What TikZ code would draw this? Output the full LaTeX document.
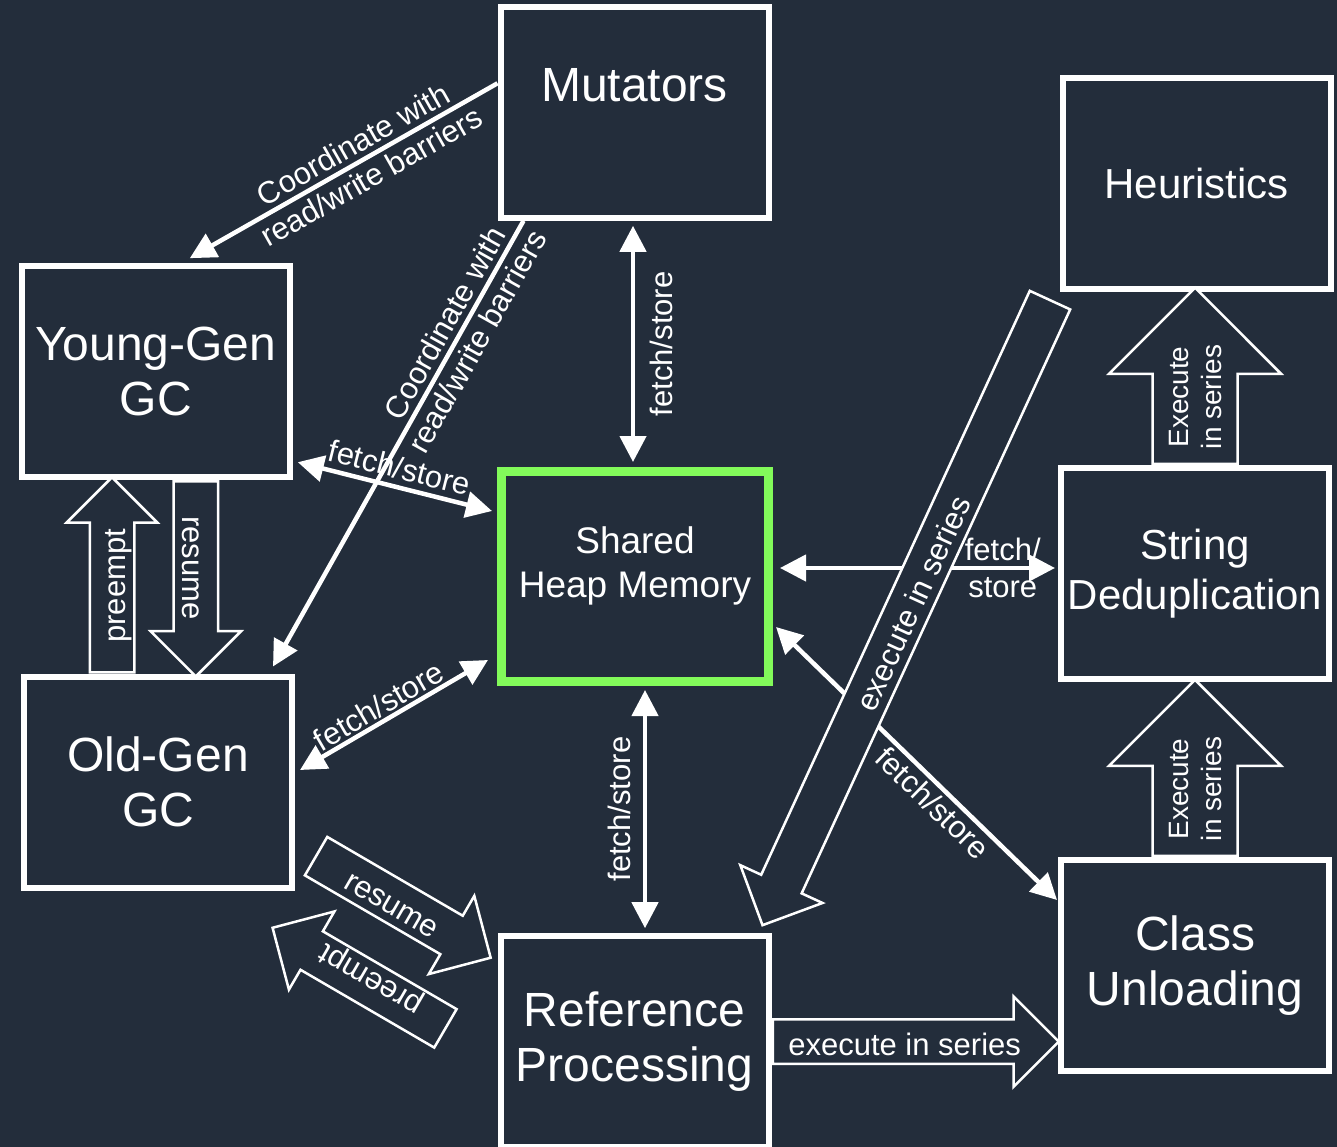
\documentclass[tikz,border=0pt]{standalone}
\usepackage{fontspec}
\setmainfont{Liberation Sans}
\usetikzlibrary{positioning,arrows.meta,shapes.arrows}
\definecolor{bgnavy}{HTML}{232D3B}
\definecolor{heapgreen}{HTML}{82FA5A}
\tikzset{
  box/.style={draw=white,line width=6pt,fill=bgnavy,text=white,minimum width=268pt,minimum height=211pt,align=center,font=\fontsize{48pt}{55pt}\selectfont},
  smallbox/.style={box,font=\fontsize{42pt}{50pt}\selectfont},
  heapbox/.style={box,draw=heapgreen,line width=9pt,minimum width=267pt,minimum height=210pt,font=\fontsize{37pt}{44pt}\selectfont},
  arr/.style={draw=white,line width=4.5pt},
  lbl/.style={text=white,font=\fontsize{31pt}{37pt}\selectfont,inner sep=3pt},
  blockbase/.style={single arrow,draw=white,line width=2.5pt,fill=bgnavy,text=white,single arrow head indent=0pt,inner xsep=2pt,anchor=tail},
  blockarr/.style={blockbase,single arrow head extend=23pt,inner ysep=7.5pt,text height=27pt,text depth=0pt,font=\fontsize{31pt}{37pt}\selectfont},
  widearr/.style={blockbase,single arrow head extend=43.5pt,inner ysep=15pt,align=center,font=\fontsize{28pt}{33pt}\selectfont}
}
\begin{document}
\begin{tikzpicture}[x=1pt,y=1pt,>={Triangle[length=26pt,width=26pt]}]
\useasboundingbox[fill=bgnavy] (0,0) rectangle (1337,-1147);

\node[box,text height=35pt,text depth=56pt] (mut) at (634.5,-112.3) {Mutators};
\node[smallbox] (heur) at (1196.5,-183.5) {Heuristics};
\node[box] (young) at (155.8,-371.7) {Young-Gen\\GC};
\node[heapbox] (heap) at (635,-576.5) {Shared\\Heap Memory\\[-16pt]\mbox{}};
\node[smallbox] (string) at (1195,-573.5) {String\\Deduplication};
\node[box] (old) at (158,-782) {Old-Gen\\GC};
\node[box] (class) at (1195,-965.5) {Class\\Unloading};
\node[box] (ref) at (634.5,-1041.7) {Reference\\Processing};

\draw[arr,->] ([yshift=29pt]mut.west) -- ([xshift=34pt,yshift=5pt]young.north)
  node[lbl,pos=0.44,sloped,align=center,inner sep=0pt] {Coordinate with\\read/write barriers};
\draw[arr,->] ([xshift=26pt]mut.south west) -- ([xshift=-22pt,yshift=7pt]old.north east)
  node[lbl,pos=0.25,sloped,align=center,inner sep=0pt] {Coordinate with\\read/write barriers};
\draw[arr,<->] ([xshift=-1.5pt,yshift=-5pt]mut.south) -- ([xshift=-2pt,yshift=5pt]heap.north)
  node[lbl,midway,rotate=90,anchor=north,inner sep=15pt] {fetch/store};
\draw[arr,<->] ([xshift=5pt,yshift=18pt]young.south east) -- ([xshift=-5pt,yshift=65.5pt]heap.west)
  node[lbl,midway,above,sloped,inner sep=6pt] {fetch/store};
\draw[arr,<->] ([xshift=5pt,yshift=12pt]old.east) -- ([xshift=-9pt,yshift=26pt]heap.south west)
  node[lbl,pos=0.46,above,sloped,inner sep=2pt] {fetch/store};
\draw[arr,<->] ([xshift=10pt,yshift=-4pt]heap.south) -- ([xshift=10.5pt,yshift=5pt]ref.north)
  node[lbl,midway,rotate=90,anchor=south,inner sep=12pt] {fetch/store};
\draw[arr,<->] ([xshift=7pt,yshift=8.5pt]heap.east) -- ([xshift=-3pt,yshift=5.5pt]string.west)
  node[lbl,pos=0.81,align=center,inner sep=0pt] {fetch/\\store};
\draw[arr,<->] ([xshift=3pt,yshift=-50.5pt]heap.east) -- ([xshift=-1pt,yshift=65.5pt]class.west)
  node[lbl,pos=0.6,below,sloped,inner sep=3pt] {fetch/store};

\node[widearr,rotate=90,minimum height=176pt] (exec1) at (class.north) {Execute\\in series};
\node[widearr,rotate=90,minimum height=176pt] (exec2) at (string.north) {Execute\\in series};
\node[blockarr,rotate=90,minimum height=195pt] (preup) at ([xshift=-46pt]old.north) {preempt};
\node[blockarr,rotate=-90,minimum height=195pt] (resdown) at ([xshift=40pt]young.south) {resume};
\node[blockarr,minimum height=286pt] (exec3) at (ref.east) {execute in series};
\node[blockarr,rotate=65.3,shape border rotate=180,minimum height=688pt] (bigexec) at ([xshift=-9pt,yshift=-7pt]heur.south west) {execute in series};
\node[blockarr,rotate=-30.2,minimum height=202pt] (resdiag) at ([xshift=20pt,yshift=35pt]old.south east) {resume};
\node[blockarr,rotate=149.8,minimum height=200pt] (prediag) at ([xshift=-51pt,yshift=12.7pt]ref.west) {preempt};
\end{tikzpicture}
\end{document}
